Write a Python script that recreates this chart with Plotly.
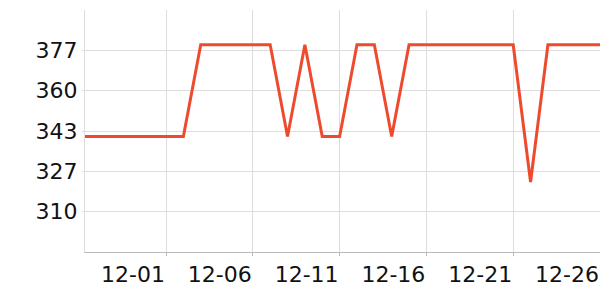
import plotly.graph_objects as go
import pandas as pd

# Data
dates = pd.date_range("2023-11-26", "2023-12-26", freq="D").strftime("%Y-%m-%d").tolist()
LOW, HIGH, DIP = 341.2, 379.3, 322.3
values = [
    LOW, LOW, LOW, LOW, LOW, LOW, LOW,      # 11-26 .. 12-02
    HIGH, HIGH, HIGH, HIGH, HIGH,           # 12-03 .. 12-07
    LOW,                                    # 12-08
    HIGH,                                   # 12-09
    LOW, LOW,                               # 12-10, 12-11
    HIGH, HIGH,                             # 12-12, 12-13
    LOW,                                    # 12-14
    HIGH, HIGH, HIGH, HIGH, HIGH, HIGH, HIGH,  # 12-15 .. 12-21
    DIP,                                    # 12-22
    HIGH, HIGH, HIGH, HIGH,                 # 12-23 .. 12-26
]

x_tick_vals = ["2023-12-01", "2023-12-06", "2023-12-11", "2023-12-16", "2023-12-21", "2023-12-26"]
x_tick_text = ["12-01", "12-06", "12-11", "12-16", "12-21", "12-26"]
y_tick_vals = [310, 326.75, 343.5, 360.25, 377]
y_tick_text = ["310", "327", "343", "360", "377"]

fig = go.Figure(
    go.Scatter(
        x=dates, y=values, mode="lines",
        line=dict(color="#ee4b2e", width=3),
        hoverinfo="skip",
    )
)

font = dict(family="DejaVu Sans", size=22, color="#111111")

fig.update_layout(
    width=600, height=300,
    margin=dict(l=85, r=0, t=10, b=48),
    paper_bgcolor="white", plot_bgcolor="white",
    showlegend=False,
    font=font,
    xaxis=dict(
        type="date",
        range=["2023-11-26 08:00", "2023-12-26 00:00"],
        tickvals=x_tick_vals, ticktext=x_tick_text,
        showgrid=True, gridcolor="#dddddd", gridwidth=1,
        showline=True, linecolor="#bbbbbb", linewidth=1,
        ticks="outside", ticklen=3, tickcolor="#bbbbbb",
        ticklabelshift=-33,
        tickfont=font,
        zeroline=False,
    ),
    yaxis=dict(
        range=[293.25, 393.75],
        tickvals=y_tick_vals, ticktext=y_tick_text,
        showgrid=True, gridcolor="#dddddd", gridwidth=1,
        showline=True, linecolor="#dddddd", linewidth=1,
        ticks="outside", ticklen=2, tickcolor="#dddddd",
        tickfont=font,
        zeroline=False,
    ),
)

fig.write_html("out.html")
